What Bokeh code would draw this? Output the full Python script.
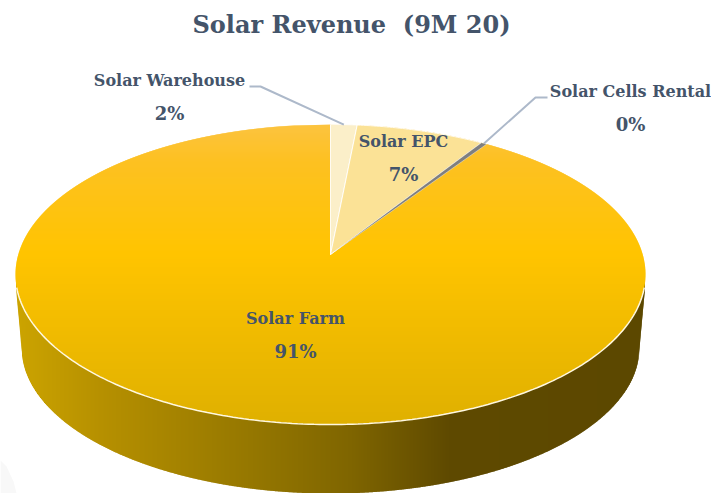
import math
from bokeh.plotting import figure
from bokeh.models import Range1d
from bokeh.core.properties import value
from bokeh.embed import file_html
from bokeh.resources import INLINE

# ---- data ----
title_text = "Solar Revenue \u00a0(9M 20)"
categories = ["Solar Warehouse", "Solar EPC", "Solar Cells Rental", "Solar Farm"]
labels_pct = ["2%", "7%", "0%", "91%"]
shares = [1.35, 6.6, 0.3, 91.75]          # drawn share of the circle, clockwise from 12 o'clock
slice_colors = ["#FBEFC9", "#FBE296", "#7F7F7F", None]

# ---- pie geometry (3-D look, in page pixels) ----
CX, CY, A, B = 330.0, 274.0, 315.0, 150.0
APEX = (330.0, 254.0)
LOW_CY, LOW_A, LOW_B = 347.0, 309.0, 146.0
SIDE_A, SIDE_TOP = 314.5, 288.0

INK = "#44546A"
LEADER = "#ADB9CA"

W, H = 711, 493
p = figure(width=W, height=H, output_backend="svg", toolbar_location=None,
           x_range=Range1d(0, W), y_range=Range1d(H, 0),
           min_border=0, outline_line_color=None, background_fill_color="white")
p.axis.visible = False
p.grid.visible = False


def hexrgb(h):
    return tuple(int(h[i:i + 2], 16) for i in (1, 3, 5))


def ramp(stops, v):
    if v <= stops[0][0]:
        return stops[0][1]
    for (a, ca), (b, cb) in zip(stops, stops[1:]):
        if v <= b:
            f = (v - a) / (b - a)
            ra, rb = hexrgb(ca), hexrgb(cb)
            return "#%02X%02X%02X" % tuple(round(x + (y - x) * f) for x, y in zip(ra, rb))
    return stops[-1][1]


# faint smudge in the bottom-left corner of the picture
p.patch([0, 6, 13, 16, 0], [460, 466, 481, 493, 493], fill_color="#F8F8F8", fill_alpha=1.0,
        line_color=None)

# side wall: vertical strips with a horizontal gradient
side_stops = [(15, "#CCA400"), (100, "#B69000"), (250, "#957700"), (350, "#7F6500"),
              (450, "#5E4900"), (645, "#5C4800")]


def low_y(x):
    d = abs(x - CX)
    if d >= LOW_A:
        f = (d - LOW_A) / (SIDE_A - LOW_A)
        return LOW_CY + (SIDE_TOP - LOW_CY) * f
    return LOW_CY + LOW_B * math.sqrt(1 - (d / LOW_A) ** 2)


xs, ys, cs = [], [], []
edges = [CX - SIDE_A + i for i in range(0, int(2 * SIDE_A) + 1)] + [CX + SIDE_A]
for x, x1 in zip(edges, edges[1:]):
    xe = min(x1 + 0.6, CX + SIDE_A)
    xs.append([x, xe, xe, x])
    ys.append([CY, CY, low_y(xe), low_y(x)])
    cs.append(ramp(side_stops, (x + x1) / 2))
p.patches(xs, ys, fill_color=cs, fill_alpha=1.0, line_color=None)

# top surface: horizontal strips with a vertical gradient
top_stops = [(124, "#FCC340"), (160, "#FDC122"), (254, "#FFC400"), (424, "#DFB000")]


def half_w(y):
    return A * math.sqrt(max(0.0, 1 - ((y - CY) / B) ** 2))


xs, ys, cs = [], [], []
y = CY - B
while y < CY + B:
    y1 = min(y + 1, CY + B)
    ye = min(y1 + 0.6, CY + B)
    xs.append([CX - half_w(y), CX + half_w(y), CX + half_w(ye), CX - half_w(ye)])
    ys.append([y, y, ye, ye])
    cs.append(ramp(top_stops, (y + y1) / 2))
    y = y1
p.patches(xs, ys, fill_color=cs, fill_alpha=1.0, line_color=None)

# rim highlight on the front of the pie
rim = [math.radians(d) for d in range(5, 176)]
p.line([CX + A * math.cos(t) for t in rim], [CY + B * math.sin(t) for t in rim],
       line_color="#FFF8E0", line_width=1.5)

# the small slices on top
start = 0.0
ends = {}
for name, share, col in zip(categories, shares, slice_colors):
    stop = start + share / 100 * 2 * math.pi
    if col is not None:
        n = 40
        ts = [start + (stop - start) * i / n for i in range(n + 1)]
        sx = [APEX[0]] + [CX + A * math.sin(t) for t in ts]
        sy = [APEX[1]] + [CY - B * math.cos(t) for t in ts]
        p.patch(sx, sy, fill_color=col, fill_alpha=1.0, line_color="#FFFFFF", line_width=1,
                line_alpha=0.9 if col != "#7F7F7F" else 0.4)
    ends[name] = (start + stop) / 2
    start = stop


def rim_pt(t):
    return CX + A * math.sin(t), CY - B * math.cos(t)


# leader lines
wx, wy = rim_pt(ends["Solar Warehouse"])
p.line([249, 260, wx], [86, 86, wy], line_color=LEADER, line_width=2)
cx_, cy_ = rim_pt(ends["Solar Cells Rental"])
p.line([547, 535, cx_], [97, 97, cy_], line_color=LEADER, line_width=2)

# texts
FONT = value("DejaVu Serif")


def txt(x, y, s, size):
    p.text([x], [y], text=[s], text_font=FONT, text_font_style="bold",
           text_font_size=size, text_color=INK, text_align="center", text_baseline="middle")


txt(351, 24, title_text, "24px")
name_pos = [(169, 80), (403, 141), (630, 91), (295, 318)]
pct_pos = [(169, 113), (403, 174), (630, 124), (295, 351)]
for s, pos in zip(categories, name_pos):
    txt(pos[0], pos[1], s, "16px")
for s, pos in zip(labels_pct, pct_pos):
    txt(pos[0], pos[1], s, "18px")

open("out.html", "w").write(file_html(p, INLINE))
